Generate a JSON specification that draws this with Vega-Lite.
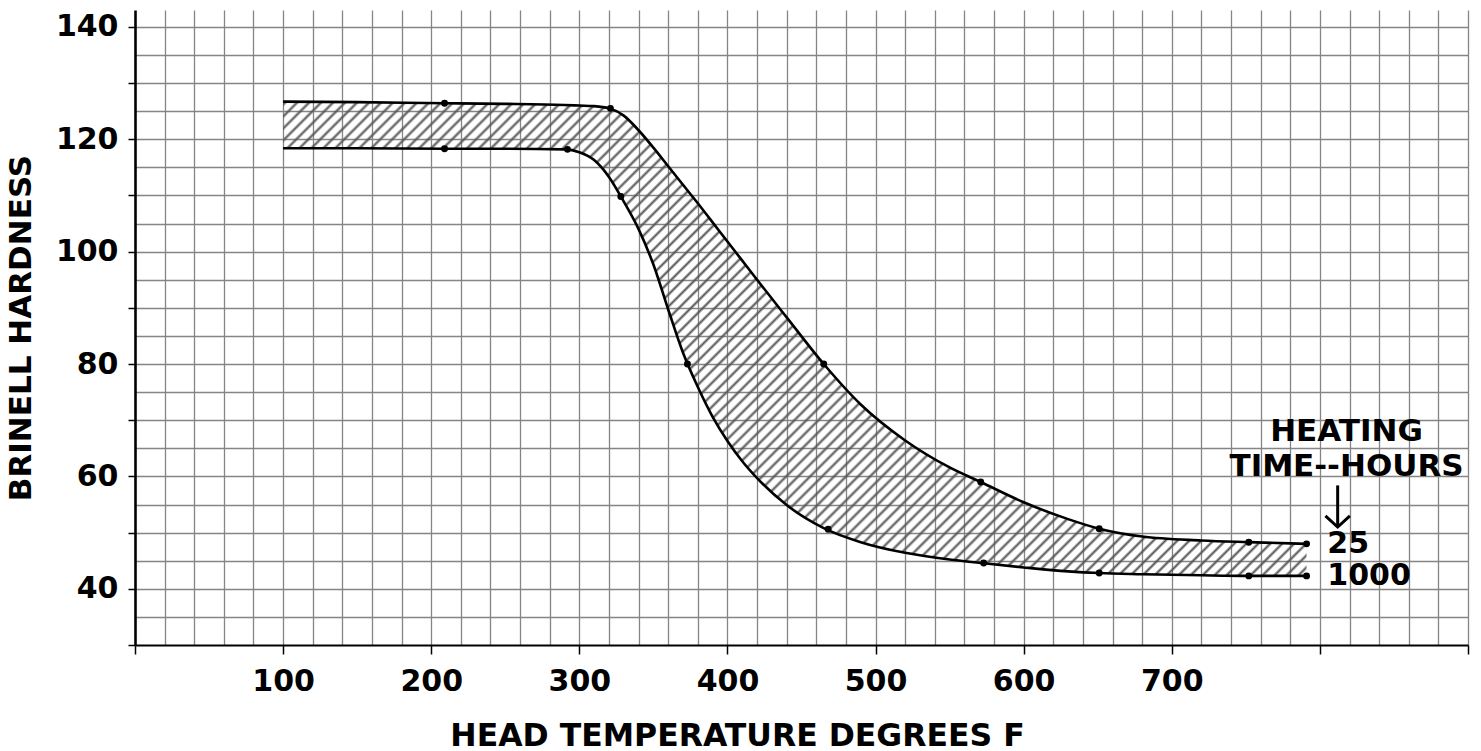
{
  "$schema": "https://vega.github.io/schema/vega-lite/v6.json",
  "width": 1333,
  "height": 635,
  "autosize": {"type": "none"},
  "padding": {"left": 135, "top": 10, "right": 13, "bottom": 106},
  "background": "white",
  "config": {
    "view": {"stroke": null},
    "axis": {"labelFont": "DejaVu Sans", "labelFontWeight": "bold", "titleFont": "DejaVu Sans", "titleFontWeight": "bold", "labelColor": "black", "titleColor": "black"}
  },
  "datasets": {
    "curves": [
      {"t": 100, "hi": 126.7, "lo": 118.4},
      {"t": 150, "hi": 126.6, "lo": 118.4},
      {"t": 210, "hi": 126.4, "lo": 118.3},
      {"t": 250, "hi": 126.3, "lo": 118.3},
      {"t": 290, "hi": 126.1, "lo": 118.2},
      {"t": 300, "hi": 126.0, "lo": 117.7},
      {"t": 310, "hi": 125.9, "lo": 116.3},
      {"t": 320, "hi": 125.5, "lo": 113.3},
      {"t": 330, "hi": 124.2, "lo": 108.9},
      {"t": 340, "hi": 121.6, "lo": 104.0},
      {"t": 350, "hi": 118.5, "lo": 97.7},
      {"t": 360, "hi": 115.2, "lo": 89.7},
      {"t": 370, "hi": 111.9, "lo": 82.0},
      {"t": 380, "hi": 108.6, "lo": 75.9},
      {"t": 390, "hi": 105.2, "lo": 70.6},
      {"t": 400, "hi": 101.8, "lo": 66.3},
      {"t": 410, "hi": 98.4, "lo": 62.7},
      {"t": 420, "hi": 95.0, "lo": 59.7},
      {"t": 440, "hi": 88.3, "lo": 54.9},
      {"t": 465, "hi": 80.0, "lo": 50.8},
      {"t": 490, "hi": 72.8, "lo": 48.3},
      {"t": 520, "hi": 66.4, "lo": 46.4},
      {"t": 550, "hi": 61.6, "lo": 45.2},
      {"t": 571, "hi": 59.0, "lo": 44.6},
      {"t": 600, "hi": 55.4, "lo": 43.8},
      {"t": 630, "hi": 52.4, "lo": 43.1},
      {"t": 651, "hi": 50.7, "lo": 42.8},
      {"t": 680, "hi": 49.3, "lo": 42.6},
      {"t": 720, "hi": 48.6, "lo": 42.4},
      {"t": 752, "hi": 48.3, "lo": 42.3},
      {"t": 791, "hi": 48.0, "lo": 42.3}
    ],
    "dots": [
      {"t": 209, "h": 126.4}, {"t": 321, "h": 125.5}, {"t": 465, "h": 80.0}, {"t": 571, "h": 59.0},
      {"t": 651, "h": 50.7}, {"t": 752, "h": 48.3}, {"t": 791, "h": 48.0},
      {"t": 209, "h": 118.3}, {"t": 292, "h": 118.2}, {"t": 328, "h": 109.8}, {"t": 373, "h": 80.0},
      {"t": 468, "h": 50.6}, {"t": 573, "h": 44.6}, {"t": 651, "h": 42.8}, {"t": 752, "h": 42.3}, {"t": 791, "h": 42.3}
    ],
    "heads": [
      {"t": 818, "h": 67.9, "s": "HEATING"},
      {"t": 818, "h": 61.6, "s": "TIME--HOURS"}
    ],
    "ends": [
      {"t": 805, "h": 48.0, "s": "25"},
      {"t": 805, "h": 42.3, "s": "1000"}
    ],
    "arrow": [{"t": 812, "h": 58.4, "h2": 51.0}]
  },
  "layer": [
    {
      "data": {"name": "curves"},
      "mark": {
        "type": "area",
        "interpolate": "monotone",
        "stroke": null,
        "fill": {
          "gradient": "linear", "x1": 0, "y1": 0, "x2": 1.205, "y2": 0.5585,
          "stops": [
{"offset":0,"color":"#5550"},{"offset":0.002,"color":"#555"},{"offset":0.004,"color":"#5550"},
{"offset":0.008,"color":"#5550"},{"offset":0.010,"color":"#555"},{"offset":0.012,"color":"#5550"},
{"offset":0.016,"color":"#5550"},{"offset":0.018,"color":"#555"},{"offset":0.020,"color":"#5550"},
{"offset":0.024,"color":"#5550"},{"offset":0.026,"color":"#555"},{"offset":0.028,"color":"#5550"},
{"offset":0.032,"color":"#5550"},{"offset":0.034,"color":"#555"},{"offset":0.036,"color":"#5550"},
{"offset":0.040,"color":"#5550"},{"offset":0.042,"color":"#555"},{"offset":0.044,"color":"#5550"},
{"offset":0.048,"color":"#5550"},{"offset":0.050,"color":"#555"},{"offset":0.052,"color":"#5550"},
{"offset":0.056,"color":"#5550"},{"offset":0.058,"color":"#555"},{"offset":0.060,"color":"#5550"},
{"offset":0.064,"color":"#5550"},{"offset":0.066,"color":"#555"},{"offset":0.068,"color":"#5550"},
{"offset":0.072,"color":"#5550"},{"offset":0.074,"color":"#555"},{"offset":0.076,"color":"#5550"},
{"offset":0.080,"color":"#5550"},{"offset":0.082,"color":"#555"},{"offset":0.084,"color":"#5550"},
{"offset":0.088,"color":"#5550"},{"offset":0.090,"color":"#555"},{"offset":0.092,"color":"#5550"},
{"offset":0.096,"color":"#5550"},{"offset":0.098,"color":"#555"},{"offset":0.100,"color":"#5550"},
{"offset":0.104,"color":"#5550"},{"offset":0.106,"color":"#555"},{"offset":0.108,"color":"#5550"},
{"offset":0.112,"color":"#5550"},{"offset":0.114,"color":"#555"},{"offset":0.116,"color":"#5550"},
{"offset":0.120,"color":"#5550"},{"offset":0.122,"color":"#555"},{"offset":0.124,"color":"#5550"},
{"offset":0.128,"color":"#5550"},{"offset":0.130,"color":"#555"},{"offset":0.132,"color":"#5550"},
{"offset":0.136,"color":"#5550"},{"offset":0.138,"color":"#555"},{"offset":0.140,"color":"#5550"},
{"offset":0.144,"color":"#5550"},{"offset":0.146,"color":"#555"},{"offset":0.148,"color":"#5550"},
{"offset":0.152,"color":"#5550"},{"offset":0.154,"color":"#555"},{"offset":0.156,"color":"#5550"},
{"offset":0.160,"color":"#5550"},{"offset":0.162,"color":"#555"},{"offset":0.164,"color":"#5550"},
{"offset":0.168,"color":"#5550"},{"offset":0.170,"color":"#555"},{"offset":0.172,"color":"#5550"},
{"offset":0.176,"color":"#5550"},{"offset":0.178,"color":"#555"},{"offset":0.180,"color":"#5550"},
{"offset":0.184,"color":"#5550"},{"offset":0.186,"color":"#555"},{"offset":0.188,"color":"#5550"},
{"offset":0.192,"color":"#5550"},{"offset":0.194,"color":"#555"},{"offset":0.196,"color":"#5550"},
{"offset":0.200,"color":"#5550"},{"offset":0.202,"color":"#555"},{"offset":0.204,"color":"#5550"},
{"offset":0.208,"color":"#5550"},{"offset":0.210,"color":"#555"},{"offset":0.212,"color":"#5550"},
{"offset":0.216,"color":"#5550"},{"offset":0.218,"color":"#555"},{"offset":0.220,"color":"#5550"},
{"offset":0.224,"color":"#5550"},{"offset":0.226,"color":"#555"},{"offset":0.228,"color":"#5550"},
{"offset":0.232,"color":"#5550"},{"offset":0.234,"color":"#555"},{"offset":0.236,"color":"#5550"},
{"offset":0.240,"color":"#5550"},{"offset":0.242,"color":"#555"},{"offset":0.244,"color":"#5550"},
{"offset":0.248,"color":"#5550"},{"offset":0.250,"color":"#555"},{"offset":0.252,"color":"#5550"},
{"offset":0.256,"color":"#5550"},{"offset":0.258,"color":"#555"},{"offset":0.260,"color":"#5550"},
{"offset":0.264,"color":"#5550"},{"offset":0.266,"color":"#555"},{"offset":0.268,"color":"#5550"},
{"offset":0.272,"color":"#5550"},{"offset":0.274,"color":"#555"},{"offset":0.276,"color":"#5550"},
{"offset":0.280,"color":"#5550"},{"offset":0.282,"color":"#555"},{"offset":0.284,"color":"#5550"},
{"offset":0.288,"color":"#5550"},{"offset":0.290,"color":"#555"},{"offset":0.292,"color":"#5550"},
{"offset":0.296,"color":"#5550"},{"offset":0.298,"color":"#555"},{"offset":0.300,"color":"#5550"},
{"offset":0.304,"color":"#5550"},{"offset":0.306,"color":"#555"},{"offset":0.308,"color":"#5550"},
{"offset":0.312,"color":"#5550"},{"offset":0.314,"color":"#555"},{"offset":0.316,"color":"#5550"},
{"offset":0.320,"color":"#5550"},{"offset":0.322,"color":"#555"},{"offset":0.324,"color":"#5550"},
{"offset":0.328,"color":"#5550"},{"offset":0.330,"color":"#555"},{"offset":0.332,"color":"#5550"},
{"offset":0.336,"color":"#5550"},{"offset":0.338,"color":"#555"},{"offset":0.340,"color":"#5550"},
{"offset":0.344,"color":"#5550"},{"offset":0.346,"color":"#555"},{"offset":0.348,"color":"#5550"},
{"offset":0.352,"color":"#5550"},{"offset":0.354,"color":"#555"},{"offset":0.356,"color":"#5550"},
{"offset":0.360,"color":"#5550"},{"offset":0.362,"color":"#555"},{"offset":0.364,"color":"#5550"},
{"offset":0.368,"color":"#5550"},{"offset":0.370,"color":"#555"},{"offset":0.372,"color":"#5550"},
{"offset":0.376,"color":"#5550"},{"offset":0.378,"color":"#555"},{"offset":0.380,"color":"#5550"},
{"offset":0.384,"color":"#5550"},{"offset":0.386,"color":"#555"},{"offset":0.388,"color":"#5550"},
{"offset":0.392,"color":"#5550"},{"offset":0.394,"color":"#555"},{"offset":0.396,"color":"#5550"},
{"offset":0.400,"color":"#5550"},{"offset":0.402,"color":"#555"},{"offset":0.404,"color":"#5550"},
{"offset":0.408,"color":"#5550"},{"offset":0.410,"color":"#555"},{"offset":0.412,"color":"#5550"},
{"offset":0.416,"color":"#5550"},{"offset":0.418,"color":"#555"},{"offset":0.420,"color":"#5550"},
{"offset":0.424,"color":"#5550"},{"offset":0.426,"color":"#555"},{"offset":0.428,"color":"#5550"},
{"offset":0.432,"color":"#5550"},{"offset":0.434,"color":"#555"},{"offset":0.436,"color":"#5550"},
{"offset":0.440,"color":"#5550"},{"offset":0.442,"color":"#555"},{"offset":0.444,"color":"#5550"},
{"offset":0.448,"color":"#5550"},{"offset":0.450,"color":"#555"},{"offset":0.452,"color":"#5550"},
{"offset":0.456,"color":"#5550"},{"offset":0.458,"color":"#555"},{"offset":0.460,"color":"#5550"},
{"offset":0.464,"color":"#5550"},{"offset":0.466,"color":"#555"},{"offset":0.468,"color":"#5550"},
{"offset":0.472,"color":"#5550"},{"offset":0.474,"color":"#555"},{"offset":0.476,"color":"#5550"},
{"offset":0.480,"color":"#5550"},{"offset":0.482,"color":"#555"},{"offset":0.484,"color":"#5550"},
{"offset":0.488,"color":"#5550"},{"offset":0.490,"color":"#555"},{"offset":0.492,"color":"#5550"},
{"offset":0.496,"color":"#5550"},{"offset":0.498,"color":"#555"},{"offset":0.500,"color":"#5550"},
{"offset":0.504,"color":"#5550"},{"offset":0.506,"color":"#555"},{"offset":0.508,"color":"#5550"},
{"offset":0.512,"color":"#5550"},{"offset":0.514,"color":"#555"},{"offset":0.516,"color":"#5550"},
{"offset":0.520,"color":"#5550"},{"offset":0.522,"color":"#555"},{"offset":0.524,"color":"#5550"},
{"offset":0.528,"color":"#5550"},{"offset":0.530,"color":"#555"},{"offset":0.532,"color":"#5550"},
{"offset":0.536,"color":"#5550"},{"offset":0.538,"color":"#555"},{"offset":0.540,"color":"#5550"},
{"offset":0.544,"color":"#5550"},{"offset":0.546,"color":"#555"},{"offset":0.548,"color":"#5550"},
{"offset":0.552,"color":"#5550"},{"offset":0.554,"color":"#555"},{"offset":0.556,"color":"#5550"},
{"offset":0.560,"color":"#5550"},{"offset":0.562,"color":"#555"},{"offset":0.564,"color":"#5550"},
{"offset":0.568,"color":"#5550"},{"offset":0.570,"color":"#555"},{"offset":0.572,"color":"#5550"},
{"offset":0.576,"color":"#5550"},{"offset":0.578,"color":"#555"},{"offset":0.580,"color":"#5550"},
{"offset":0.584,"color":"#5550"},{"offset":0.586,"color":"#555"},{"offset":0.588,"color":"#5550"},
{"offset":0.592,"color":"#5550"},{"offset":0.594,"color":"#555"},{"offset":0.596,"color":"#5550"},
{"offset":0.600,"color":"#5550"},{"offset":0.602,"color":"#555"},{"offset":0.604,"color":"#5550"},
{"offset":0.608,"color":"#5550"},{"offset":0.610,"color":"#555"},{"offset":0.612,"color":"#5550"},
{"offset":0.616,"color":"#5550"},{"offset":0.618,"color":"#555"},{"offset":0.620,"color":"#5550"},
{"offset":0.624,"color":"#5550"},{"offset":0.626,"color":"#555"},{"offset":0.628,"color":"#5550"},
{"offset":0.632,"color":"#5550"},{"offset":0.634,"color":"#555"},{"offset":0.636,"color":"#5550"},
{"offset":0.640,"color":"#5550"},{"offset":0.642,"color":"#555"},{"offset":0.644,"color":"#5550"},
{"offset":0.648,"color":"#5550"},{"offset":0.650,"color":"#555"},{"offset":0.652,"color":"#5550"},
{"offset":0.656,"color":"#5550"},{"offset":0.658,"color":"#555"},{"offset":0.660,"color":"#5550"},
{"offset":0.664,"color":"#5550"},{"offset":0.666,"color":"#555"},{"offset":0.668,"color":"#5550"},
{"offset":0.672,"color":"#5550"},{"offset":0.674,"color":"#555"},{"offset":0.676,"color":"#5550"},
{"offset":0.680,"color":"#5550"},{"offset":0.682,"color":"#555"},{"offset":0.684,"color":"#5550"},
{"offset":0.688,"color":"#5550"},{"offset":0.690,"color":"#555"},{"offset":0.692,"color":"#5550"},
{"offset":0.696,"color":"#5550"},{"offset":0.698,"color":"#555"},{"offset":0.700,"color":"#5550"},
{"offset":0.704,"color":"#5550"},{"offset":0.706,"color":"#555"},{"offset":0.708,"color":"#5550"},
{"offset":0.712,"color":"#5550"},{"offset":0.714,"color":"#555"},{"offset":0.716,"color":"#5550"},
{"offset":0.720,"color":"#5550"},{"offset":0.722,"color":"#555"},{"offset":0.724,"color":"#5550"},
{"offset":0.728,"color":"#5550"},{"offset":0.730,"color":"#555"},{"offset":0.732,"color":"#5550"},
{"offset":0.736,"color":"#5550"},{"offset":0.738,"color":"#555"},{"offset":0.740,"color":"#5550"},
{"offset":0.744,"color":"#5550"},{"offset":0.746,"color":"#555"},{"offset":0.748,"color":"#5550"},
{"offset":0.752,"color":"#5550"},{"offset":0.754,"color":"#555"},{"offset":0.756,"color":"#5550"},
{"offset":0.760,"color":"#5550"},{"offset":0.762,"color":"#555"},{"offset":0.764,"color":"#5550"},
{"offset":0.768,"color":"#5550"},{"offset":0.770,"color":"#555"},{"offset":0.772,"color":"#5550"},
{"offset":0.776,"color":"#5550"},{"offset":0.778,"color":"#555"},{"offset":0.780,"color":"#5550"},
{"offset":0.784,"color":"#5550"},{"offset":0.786,"color":"#555"},{"offset":0.788,"color":"#5550"},
{"offset":0.792,"color":"#5550"},{"offset":0.794,"color":"#555"},{"offset":0.796,"color":"#5550"},
{"offset":0.800,"color":"#5550"},{"offset":0.802,"color":"#555"},{"offset":0.804,"color":"#5550"},
{"offset":0.808,"color":"#5550"},{"offset":0.810,"color":"#555"},{"offset":0.812,"color":"#5550"},
{"offset":0.816,"color":"#5550"},{"offset":0.818,"color":"#555"},{"offset":0.820,"color":"#5550"},
{"offset":0.824,"color":"#5550"},{"offset":0.826,"color":"#555"},{"offset":0.828,"color":"#5550"},
{"offset":0.832,"color":"#5550"},{"offset":0.834,"color":"#555"},{"offset":0.836,"color":"#5550"},
{"offset":0.840,"color":"#5550"},{"offset":0.842,"color":"#555"},{"offset":0.844,"color":"#5550"},
{"offset":0.848,"color":"#5550"},{"offset":0.850,"color":"#555"},{"offset":0.852,"color":"#5550"},
{"offset":0.856,"color":"#5550"},{"offset":0.858,"color":"#555"},{"offset":0.860,"color":"#5550"},
{"offset":0.864,"color":"#5550"},{"offset":0.866,"color":"#555"},{"offset":0.868,"color":"#5550"},
{"offset":0.872,"color":"#5550"},{"offset":0.874,"color":"#555"},{"offset":0.876,"color":"#5550"},
{"offset":0.880,"color":"#5550"},{"offset":0.882,"color":"#555"},{"offset":0.884,"color":"#5550"},
{"offset":0.888,"color":"#5550"},{"offset":0.890,"color":"#555"},{"offset":0.892,"color":"#5550"},
{"offset":0.896,"color":"#5550"},{"offset":0.898,"color":"#555"},{"offset":0.900,"color":"#5550"},
{"offset":0.904,"color":"#5550"},{"offset":0.906,"color":"#555"},{"offset":0.908,"color":"#5550"},
{"offset":0.912,"color":"#5550"},{"offset":0.914,"color":"#555"},{"offset":0.916,"color":"#5550"},
{"offset":0.920,"color":"#5550"},{"offset":0.922,"color":"#555"},{"offset":0.924,"color":"#5550"},
{"offset":0.928,"color":"#5550"},{"offset":0.930,"color":"#555"},{"offset":0.932,"color":"#5550"},
{"offset":0.936,"color":"#5550"},{"offset":0.938,"color":"#555"},{"offset":0.940,"color":"#5550"},
{"offset":0.944,"color":"#5550"},{"offset":0.946,"color":"#555"},{"offset":0.948,"color":"#5550"},
{"offset":0.952,"color":"#5550"},{"offset":0.954,"color":"#555"},{"offset":0.956,"color":"#5550"},
{"offset":0.960,"color":"#5550"},{"offset":0.962,"color":"#555"},{"offset":0.964,"color":"#5550"},
{"offset":0.968,"color":"#5550"},{"offset":0.970,"color":"#555"},{"offset":0.972,"color":"#5550"},
{"offset":0.976,"color":"#5550"},{"offset":0.978,"color":"#555"},{"offset":0.980,"color":"#5550"},
{"offset":0.984,"color":"#5550"},{"offset":0.986,"color":"#555"},{"offset":0.988,"color":"#5550"},
{"offset":0.992,"color":"#5550"},{"offset":0.994,"color":"#555"},{"offset":0.996,"color":"#5550"},
{"offset":1,"color":"#5550"}
          ]
        }
      },
      "encoding": {
        "x": {
          "field": "t", "type": "quantitative",
          "scale": {"domain": [0, 900], "nice": false, "zero": false},
          "axis": {"orient": "bottom", "values": [20,40,60,80,100,120,140,160,180,200,220,240,260,280,300,320,340,360,380,400,420,440,460,480,500,520,540,560,580,600,620,640,660,680,700,720,740,760,780,800,820,840,860,880,900], "grid": true, "gridColor": "#858585", "gridWidth": 1.3, "labels": false, "ticks": false, "domain": false, "title": null}
        },
        "y": {
          "field": "hi", "type": "quantitative",
          "scale": {"domain": [30, 143], "nice": false, "zero": false},
          "axis": {"orient": "left", "values": [35,40,45,50,55,60,65,70,75,80,85,90,95,100,105,110,115,120,125,130,135,140], "grid": true, "gridColor": "#858585", "gridWidth": 1.3, "labels": false, "ticks": false, "domain": false, "title": null}
        },
        "y2": {"field": "lo"}
      }
    },
    {
      "data": {"name": "curves"},
      "mark": {"type": "line", "interpolate": "monotone", "color": "black", "strokeWidth": 2.6},
      "encoding": {
        "x": {
          "field": "t", "type": "quantitative",
          "axis": {"orient": "bottom", "values": [0,100,200,300,400,500,600,700,800,900], "grid": false,
            "labelExpr": "datum.value >= 100 && datum.value <= 700 ? datum.label : ''",
            "domainColor": "black", "domainWidth": 2.2, "tickColor": "black", "tickWidth": 1.5, "tickSize": 9,
            "labelFontSize": 30, "labelPadding": 12,
            "title": "HEAD TEMPERATURE DEGREES F", "titleFontSize": 31.5, "titlePadding": 24, "titleX": 602}
        },
        "y": {
          "field": "hi", "type": "quantitative",
          "axis": {"orient": "left", "values": [30,40,50,60,70,80,90,100,110,120,130,140], "grid": false,
            "labelExpr": "datum.value >= 40 && datum.value % 20 == 0 ? datum.label : ''",
            "domainColor": "black", "domainWidth": 2.6, "tickColor": "black", "tickWidth": 1.5, "tickSize": 7,
            "labelFontSize": 30, "labelPadding": 10,
            "title": "BRINELL HARDNESS", "titleFontSize": 31, "titlePadding": 18}
        }
      }
    },
    {
      "data": {"name": "curves"},
      "mark": {"type": "line", "interpolate": "monotone", "color": "black", "strokeWidth": 2.6},
      "encoding": {
        "x": {"field": "t", "type": "quantitative", "axis": null},
        "y": {"field": "lo", "type": "quantitative", "axis": null}
      }
    },
    {
      "data": {"name": "dots"},
      "mark": {"type": "point", "filled": true, "color": "black", "size": 48, "opacity": 1},
      "encoding": {
        "x": {"field": "t", "type": "quantitative", "axis": null},
        "y": {"field": "h", "type": "quantitative", "axis": null}
      }
    },
    {
      "data": {"name": "heads"},
      "mark": {"type": "text", "font": "DejaVu Sans", "fontWeight": "bold", "fontSize": 31, "align": "center", "baseline": "middle", "color": "black"},
      "encoding": {
        "x": {"field": "t", "type": "quantitative", "axis": null},
        "y": {"field": "h", "type": "quantitative", "axis": null},
        "text": {"field": "s"}
      }
    },
    {
      "data": {"name": "ends"},
      "mark": {"type": "text", "font": "DejaVu Sans", "fontWeight": "bold", "fontSize": 30, "align": "left", "baseline": "middle", "color": "black"},
      "encoding": {
        "x": {"field": "t", "type": "quantitative", "axis": null},
        "y": {"field": "h", "type": "quantitative", "axis": null},
        "text": {"field": "s"}
      }
    },
    {
      "data": {"name": "arrow"},
      "mark": {"type": "rule", "color": "black", "strokeWidth": 3},
      "encoding": {
        "x": {"field": "t", "type": "quantitative", "axis": null},
        "y": {"field": "h", "type": "quantitative", "axis": null},
        "y2": {"field": "h2"}
      }
    },
    {
      "data": {"name": "arrow"},
      "mark": {"type": "point", "shape": "M-1,-0.9L0,0L1,-0.9", "filled": false, "color": "black", "strokeWidth": 3, "size": 600, "opacity": 1},
      "encoding": {
        "x": {"field": "t", "type": "quantitative", "axis": null},
        "y": {"field": "h2", "type": "quantitative", "axis": null}
      }
    }
  ],
  "resolve": {"axis": {"x": "independent", "y": "independent"}}
}
